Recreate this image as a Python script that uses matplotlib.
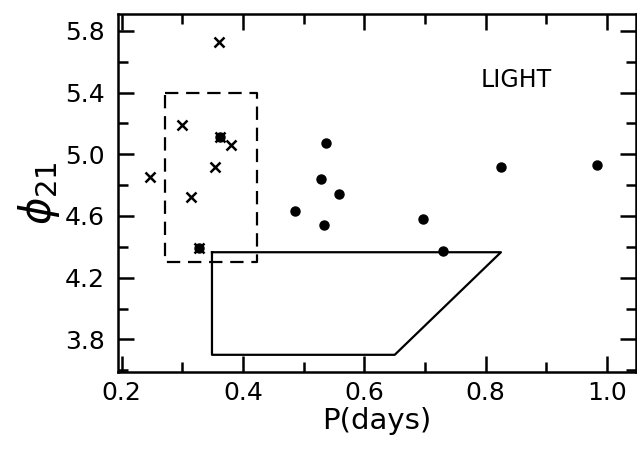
import matplotlib
matplotlib.use("Agg")
import matplotlib.pyplot as plt
from matplotlib.ticker import MultipleLocator, FormatStrFormatter

# ================= DATA =================

# crosses (x markers)
cross_p = [0.361, 0.299, 0.362, 0.380, 0.354, 0.247, 0.315, 0.328]
cross_phi = [5.73, 5.19, 5.11, 5.06, 4.92, 4.85, 4.72, 4.39]

# filled dots
dot_p = [0.537, 0.529, 0.558, 0.485, 0.534, 0.697, 0.730, 0.825, 0.983, 0.362, 0.328]
dot_phi = [5.07, 4.84, 4.74, 4.63, 4.54, 4.58, 4.37, 4.92, 4.93, 5.11, 4.39]

# dashed box
box_p = [0.272, 0.423, 0.423, 0.272, 0.272]
box_phi = [5.40, 5.40, 4.30, 4.30, 5.40]

# solid region
region_p = [0.349, 0.825, 0.650, 0.349, 0.349]
region_phi = [4.365, 4.365, 3.70, 3.70, 4.365]

# ================= PLOT =================

plt.rcParams["font.family"] = ["DejaVu Sans"]

fig = plt.figure(figsize=(6.37, 4.49), dpi=100)
ax = fig.add_axes([0.186, 0.172, 0.812, 0.797])

ax.plot(region_p, region_phi, color="black", lw=1.6)
ax.plot(box_p, box_phi, color="black", lw=1.6, dashes=(6, 3.5))
ax.plot(dot_p, dot_phi, "o", color="black", ms=6.5, ls="none")
ax.plot(cross_p, cross_phi, "x", color="black", ms=7, mew=1.8, ls="none")

ax.text(0.851, 5.48, "LIGHT", fontsize=17, ha="center", va="center")

ax.set_xlim(0.195, 1.047)
ax.set_ylim(3.59, 5.91)

ax.xaxis.set_major_locator(MultipleLocator(0.2))
ax.xaxis.set_minor_locator(MultipleLocator(0.1))
ax.yaxis.set_minor_locator(MultipleLocator(0.2))
ax.set_yticks([3.8, 4.2, 4.6, 5.0, 5.4, 5.8])
ax.xaxis.set_major_formatter(FormatStrFormatter("%.1f"))
ax.yaxis.set_major_formatter(FormatStrFormatter("%.1f"))

ax.tick_params(which="both", direction="in", top=True, right=True, width=1.8, labelsize=18)
ax.tick_params(which="major", length=11.5)
ax.tick_params(which="minor", length=7)
ax.tick_params(axis="x", pad=7)
ax.tick_params(axis="y", pad=10)

for s in ax.spines.values():
    s.set_linewidth(1.8)

ax.set_xlabel("P(days)", fontsize=21, labelpad=1)
ax.set_ylabel(r"$\phi_{21}$", fontsize=30, labelpad=2)

fig.savefig("out.png", dpi=100)
